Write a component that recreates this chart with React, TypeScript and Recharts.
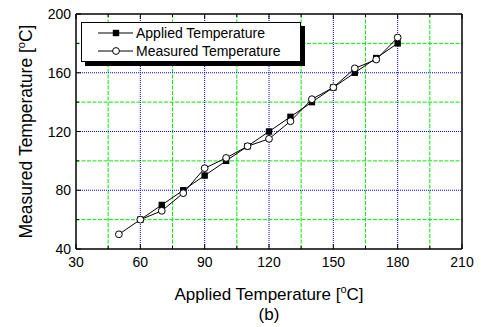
import React from "react";
import { LineChart, Line, XAxis, YAxis, ReferenceLine } from "recharts";

const temps = [50, 60, 70, 80, 90, 100, 110, 120, 130, 140, 150, 160, 170, 180];
const applied = [null, 60, 70, 80, 90, 100, 110, 120, 130, 140, 150, 160, 170, 180];
const measured = [50, 60, 66, 78, 95, 102, 110, 115, 127, 142, 150, 163, 169, 184];

const xTicks = [30, 45, 60, 75, 90, 105, 120, 135, 150, 165, 180, 195, 210];
const yTicks = [40, 60, 80, 100, 120, 140, 160, 180, 200];
const xMajorGrid = [60, 90, 120, 150, 180];
const xMinorGrid = [45, 75, 105, 135, 165, 195];
const yMajorGrid = [80, 120, 160];
const yMinorGrid = [60, 100, 140, 180];

const seriesNames = ["Applied Temperature", "Measured Temperature"];

const data = temps.map((t, i) => ({ x: t, applied: applied[i], measured: measured[i] }));

const FONT = "Arial, 'Liberation Sans', sans-serif";

const isMajorX = (v: number) => v % 30 === 0;
const isMajorY = (v: number) => v % 40 === 0;

const BottomTick = (props: any) => {
  const { x, y, payload } = props;
  const major = isMajorX(payload.value);
  return (
    <g>
      <line x1={x} y1={y} x2={x} y2={y - (major ? 5 : 3)} stroke="#000" strokeWidth={1} />
      {major && (
        <text x={x} y={y + 18} textAnchor="middle" fontSize={14} fontFamily={FONT} fill="#000">
          {payload.value}
        </text>
      )}
    </g>
  );
};

const TopTick = (props: any) => {
  const { x, y, payload } = props;
  const major = isMajorX(payload.value);
  return <line x1={x} y1={y} x2={x} y2={y + (major ? 5 : 3)} stroke="#000" strokeWidth={1} />;
};

const LeftTick = (props: any) => {
  const { x, y, payload } = props;
  const major = isMajorY(payload.value);
  return (
    <g>
      <line x1={x} y1={y} x2={x + (major ? 5 : 3)} y2={y} stroke="#000" strokeWidth={1} />
      {major && (
        <text x={x - 5} y={y + 5} textAnchor="end" fontSize={14} fontFamily={FONT} fill="#000">
          {payload.value}
        </text>
      )}
    </g>
  );
};

const RightTick = (props: any) => {
  const { x, y, payload } = props;
  const major = isMajorY(payload.value);
  return <line x1={x} y1={y} x2={x - (major ? 5 : 3)} y2={y} stroke="#000" strokeWidth={1} />;
};

const XLabel = (props: any) => {
  const vb = props.viewBox || {};
  const cx = vb.x + vb.width / 2;
  const y0 = vb.y;
  return (
    <g>
      <text x={cx} y={y0 + 51} textAnchor="middle" fontSize={17} fontFamily={FONT} fill="#000">
        Applied Temperature [<tspan fontSize={11} dy={-7}>o</tspan>
        <tspan dy={7}>C]</tspan>
      </text>
      <text x={cx} y={y0 + 71} textAnchor="middle" fontSize={17} fontFamily={FONT} fill="#000">
        (b)
      </text>
    </g>
  );
};

const YLabel = (props: any) => {
  const vb = props.viewBox || {};
  const cy = vb.y + vb.height / 2;
  const bx = 32;
  return (
    <text
      x={bx}
      y={cy}
      transform={`rotate(-90 ${bx} ${cy})`}
      textAnchor="middle"
      fontSize={17.5}
      fontFamily={FONT}
      fill="#000"
    >
      Measured Temperature [<tspan fontSize={11} dy={-7}>o</tspan>
      <tspan dy={7}>C]</tspan>
    </text>
  );
};

const SquareDot = (props: any) => {
  const { cx, cy } = props;
  if (cx == null || cy == null) return null;
  return <rect x={cx - 3.2} y={cy - 3.2} width={6.4} height={6.4} fill="#000" />;
};

const CircleDot = (props: any) => {
  const { cx, cy } = props;
  if (cx == null || cy == null) return null;
  return <circle cx={cx} cy={cy} r={3.4} fill="#fff" stroke="#000" strokeWidth={1} />;
};

const LegendBox = () => (
  <svg
    width={230}
    height={50}
    style={{ position: "absolute", left: 81, top: 22, display: "block", overflow: "visible" }}
  >
    <rect x={4} y={4} width={220} height={40} fill="#000" />
    <rect x={0.5} y={0.5} width={219} height={39} fill="#fff" stroke="#000" strokeWidth={1} />
    {seriesNames.map((name, i) => {
      const cy = 11 + i * 18;
      return (
        <g key={name}>
          <line x1={17} y1={cy} x2={52} y2={cy} stroke="#000" strokeWidth={1} />
          {i === 0 ? (
            <rect x={31.8} y={cy - 3.2} width={6.4} height={6.4} fill="#000" />
          ) : (
            <circle cx={35} cy={cy} r={3.4} fill="#fff" stroke="#000" strokeWidth={1} />
          )}
          <text x={55} y={cy + 5} fontSize={14} fontFamily={FONT} fill="#000">
            {name}
          </text>
        </g>
      );
    })}
  </svg>
);

export default function App() {
  return (
    <div style={{ position: "absolute", left: 0, top: 0, width: 481, height: 327, background: "#fff" }}>
      <LineChart width={481} height={327} data={data} margin={{ top: 13, right: 18, bottom: 48, left: 31 }}>
        {xMinorGrid.map((v) => (
          <ReferenceLine key={`xm${v}`} x={v} xAxisId="bottom" yAxisId="left" stroke="#00ee00" strokeDasharray="4 1.5" strokeWidth={1} />
        ))}
        {yMinorGrid.map((v) => (
          <ReferenceLine key={`ym${v}`} y={v} xAxisId="bottom" yAxisId="left" stroke="#00ee00" strokeDasharray="4 1.5" strokeWidth={1} />
        ))}
        {xMajorGrid.map((v) => (
          <ReferenceLine key={`xM${v}`} x={v} xAxisId="bottom" yAxisId="left" stroke="#0000ff" strokeDasharray="1 1" strokeWidth={1} />
        ))}
        {yMajorGrid.map((v) => (
          <ReferenceLine key={`yM${v}`} y={v} xAxisId="bottom" yAxisId="left" stroke="#0000ff" strokeDasharray="1 1" strokeWidth={1} />
        ))}
        <XAxis
          xAxisId="bottom"
          dataKey="x"
          type="number"
          domain={[30, 210]}
          ticks={xTicks}
          interval={0}
          tickSize={0}
          tickMargin={0}
          tickLine={false}
          tick={<BottomTick />}
          axisLine={{ stroke: "#000", strokeWidth: 1.5 }}
          height={30}
          label={<XLabel />}
          allowDataOverflow
        />
        <XAxis
          xAxisId="top"
          orientation="top"
          dataKey="x"
          type="number"
          domain={[30, 210]}
          ticks={xTicks}
          interval={0}
          tickSize={0}
          tickMargin={0}
          tickLine={false}
          tick={<TopTick />}
          axisLine={{ stroke: "#000", strokeWidth: 1.5 }}
          height={1}
        />
        <YAxis
          yAxisId="left"
          type="number"
          domain={[40, 200]}
          ticks={yTicks}
          interval={0}
          tickSize={0}
          tickMargin={0}
          tickLine={false}
          tick={<LeftTick />}
          axisLine={{ stroke: "#000", strokeWidth: 1.5 }}
          width={45}
          label={<YLabel />}
          allowDataOverflow
        />
        <YAxis
          yAxisId="right"
          orientation="right"
          type="number"
          domain={[40, 200]}
          ticks={yTicks}
          interval={0}
          tickSize={0}
          tickMargin={0}
          tickLine={false}
          tick={<RightTick />}
          axisLine={{ stroke: "#000", strokeWidth: 1.5 }}
          width={1}
        />
        <Line
          xAxisId="bottom"
          yAxisId="left"
          dataKey="applied"
          name={seriesNames[0]}
          stroke="#000"
          strokeWidth={1}
          dot={<SquareDot />}
          activeDot={false}
          isAnimationActive={false}
        />
        <Line
          xAxisId="bottom"
          yAxisId="left"
          dataKey="measured"
          name={seriesNames[1]}
          stroke="#000"
          strokeWidth={1}
          dot={<CircleDot />}
          activeDot={false}
          isAnimationActive={false}
        />
      </LineChart>
      <LegendBox />
    </div>
  );
}
